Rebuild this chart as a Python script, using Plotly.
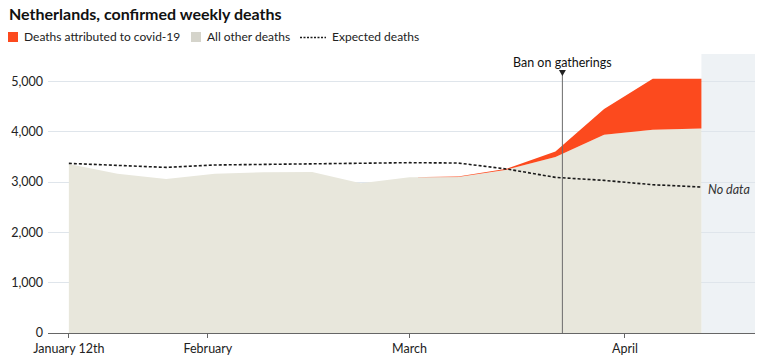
import plotly.graph_objects as go

weeks = ["2020-01-12", "2020-01-19", "2020-01-26", "2020-02-02", "2020-02-09",
         "2020-02-16", "2020-02-23", "2020-03-01", "2020-03-08", "2020-03-15",
         "2020-03-22", "2020-03-29", "2020-04-05", "2020-04-12"]
other_deaths = [3360, 3165, 3060, 3165, 3195, 3200, 2975, 3092, 3100, 3245,
                3497, 3940, 4040, 4065]
covid_deaths = [0, 0, 0, 0, 0, 0, 0, 0, 10, 18, 110, 510, 1010, 985]
expected_deaths = [3370, 3330, 3290, 3338, 3350, 3357, 3370, 3384, 3377, 3258,
                   3092, 3032, 2946, 2900]

x_tickvals = ["2020-01-12", "2020-02-01", "2020-03-01", "2020-04-01"]
x_ticktext = ["January 12th", "February", "March", "April"]
y_tickvals = [0, 1000, 2000, 3000, 4000, 5000]
y_ticktext = ["0", "1,000", "2,000", "3,000", "4,000", "5,000"]

ban_date = "2020-03-23"
x_range = ["2020-01-09", "2020-04-19 17:00"]
no_data_start = "2020-04-12"

RED = "#fc4a1e"
GREY = "#e8e7dc"
FONT = "Lato"

W, H = 769, 356
ML, MR, MT, MB = 48, 14, 54, 23
PW, PH = W - ML - MR, H - MT - MB


def px(x):
    return (x - ML) / PW


def py(y):
    return (H - MB - y) / PH


fig = go.Figure()
fig.add_trace(go.Scatter(x=weeks, y=other_deaths, stackgroup="d", mode="lines",
                         line=dict(width=0, color=GREY), fillcolor=GREY,
                         hoverinfo="skip", showlegend=False))
fig.add_trace(go.Scatter(x=weeks, y=covid_deaths, stackgroup="d", mode="lines",
                         line=dict(width=0, color=RED), fillcolor=RED,
                         hoverinfo="skip", showlegend=False))
fig.add_trace(go.Scatter(x=weeks, y=expected_deaths, mode="lines",
                         line=dict(width=1.6, color="#1a1a1a", dash="3px,2px"),
                         hoverinfo="skip", showlegend=False))

shapes = [
    # no data region
    dict(type="rect", xref="x", yref="paper", x0=no_data_start, x1=x_range[1],
         y0=0, y1=1, fillcolor="#eef2f5", line=dict(width=0), layer="below"),
    # ban line
    dict(type="line", xref="x", yref="paper", x0=ban_date, x1=ban_date,
         y0=0, y1=py(71), line=dict(color="#6b6b6b", width=1), layer="above"),
    dict(type="path", xref="x", yref="paper", xsizemode="pixel", ysizemode="pixel",
         xanchor=ban_date, yanchor=py(71), path="M -3.5,1 L 3.5,1 L 0,-5 Z",
         fillcolor="#222", line=dict(width=0), layer="above"),
    # legend
    dict(type="rect", xref="paper", yref="paper", x0=px(8), x1=px(18),
         y0=py(42), y1=py(32), fillcolor=RED, line=dict(width=0)),
    dict(type="rect", xref="paper", yref="paper", x0=px(191), x1=px(201),
         y0=py(42), y1=py(32), fillcolor="#d5d4cb", line=dict(width=0)),
    dict(type="line", xref="paper", yref="paper", x0=px(300), x1=px(326),
         y0=py(37.5), y1=py(37.5), line=dict(color="#1a1a1a", width=1.6, dash="2px,1.5px")),
]

annotations = [
    dict(text="<b>Netherlands, confirmed weekly deaths</b>", xref="paper", yref="paper",
         x=px(7), y=py(13), xanchor="left", yanchor="middle", showarrow=False,
         font=dict(size=16, color="#111", family=FONT)),
    dict(text="Deaths attributed to covid-19", xref="paper", yref="paper",
         x=px(22), y=py(37), xanchor="left", yanchor="middle", showarrow=False,
         font=dict(size=12, color="#222", family=FONT)),
    dict(text="All other deaths", xref="paper", yref="paper",
         x=px(205), y=py(37), xanchor="left", yanchor="middle", showarrow=False,
         font=dict(size=12, color="#222", family=FONT)),
    dict(text="Expected deaths", xref="paper", yref="paper",
         x=px(330), y=py(37), xanchor="left", yanchor="middle", showarrow=False,
         font=dict(size=12, color="#222", family=FONT)),
    dict(text="Ban on gatherings", xref="x", yref="paper",
         x=ban_date, y=py(62), xanchor="center", yanchor="middle", showarrow=False,
         font=dict(size=12.5, color="#111", family=FONT)),
    dict(text="<i>No data</i>", xref="paper", yref="paper",
         x=px(729), y=py(189), xanchor="center", yanchor="middle", showarrow=False,
         font=dict(size=12.5, color="#333", family=FONT)),
]

fig.update_layout(
    width=W, height=H,
    margin=dict(l=ML, r=MR, t=MT, b=MB),
    paper_bgcolor="white", plot_bgcolor="white",
    font=dict(family=FONT, size=12.5, color="#222"),
    shapes=shapes, annotations=annotations, showlegend=False,
    hovermode=False,
    xaxis=dict(type="date", range=x_range, tickvals=x_tickvals, ticktext=x_ticktext,
               showgrid=False, showline=True, linecolor="#666", linewidth=1,
               ticks="outside", ticklen=4, tickcolor="#666", zeroline=False,
               automargin=False, ticklabelstandoff=0,
               tickfont=dict(size=12.5, family=FONT, color="#222")),
    yaxis=dict(range=[0, 5543], tickvals=y_tickvals, ticktext=y_ticktext,
               showgrid=True, gridcolor="#dfe5eb", gridwidth=1, zeroline=False,
               showline=False, ticks="", ticklabelstandoff=4, automargin=False,
               tickfont=dict(size=12.5, family=FONT, color="#222")),
)

fig.write_html("out.html", config={"displayModeBar": False},
               post_script="document.body.style.margin='0';document.body.style.overflow='hidden';")
